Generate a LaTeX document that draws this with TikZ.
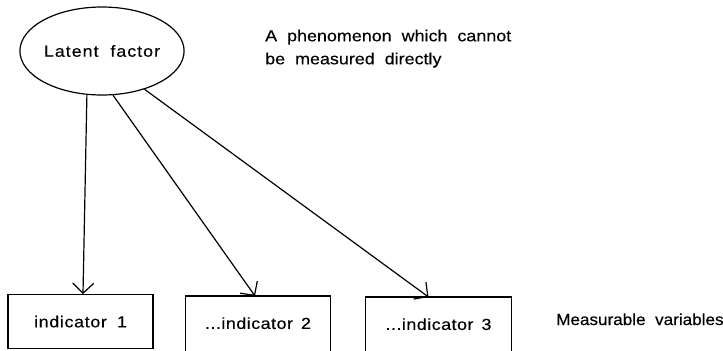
\documentclass[tikz,border=0pt]{standalone}
\usepackage{fontspec}
\usepackage{graphicx}
\setmainfont{Liberation Sans}[FakeStretch=1.12, WordSpace=2, FakeBold=0.3]
\usetikzlibrary{shapes.geometric,arrows.meta}

\tikzset{
  lbl/.style={font=\fontsize{16bp}{23bp}\selectfont, inner sep=0pt},
  factor/.style={lbl, ellipse, draw, line width=1.2bp,
    minimum width=159bp, minimum height=88bp},
  indbox/.style={lbl, rectangle, minimum width=145bp, minimum height=54bp,
    anchor=north},
  edge/.style={line width=1.2bp},
  load/.style={edge, -{Straight Barb[length=10bp, width=21bp]}},
}

\begin{document}
\begin{tikzpicture}[x=1bp, y=-1bp]
  \useasboundingbox (0,0) rectangle (723,350);

  % latent factor and its description
  \node[factor] (lf) at (102,51) {\addfontfeature{LetterSpace=6}Latent factor};
  \node[lbl, align=left, anchor=north west] (desc) at (265,29.5)
    {A phenomenon which cannot\\be measured directly};

  % indicator boxes (the second and third run past the lower edge)
  \node[indbox, draw, line width=1.2bp] (b1) at (80.5,294) {\addfontfeature{LetterSpace=4}indicator\hspace{10bp}1};
  \node[indbox] (b2) at (258,296) {\addfontfeature{LetterSpace=3}...indicator\hspace{8bp}2};
  \node[indbox] (b3) at (438.5,297) {\addfontfeature{LetterSpace=3}...indicator\hspace{8bp}3};
  \draw[edge] ([yshift=-12bp]b2.south west) |- (b2.north east) -- ([yshift=-12bp]b2.south east);
  \draw[edge] ([yshift=-12bp]b3.south west) |- (b3.north east) -- ([yshift=-12bp]b3.south east);

  \node[lbl, anchor=base west] (mv) at (556,325)
    {\scalebox{0.955}[1]{Measurable variables}};

  % loadings
  \draw[load] (lf.251) -- ([xshift=2.5bp]b1.north);
  \draw[load] (lf.284) -- ([xshift=-3bp]b2.north);
  \draw[load] (lf.318) -- ([xshift=-10bp]b3.north);
\end{tikzpicture}
\end{document}
